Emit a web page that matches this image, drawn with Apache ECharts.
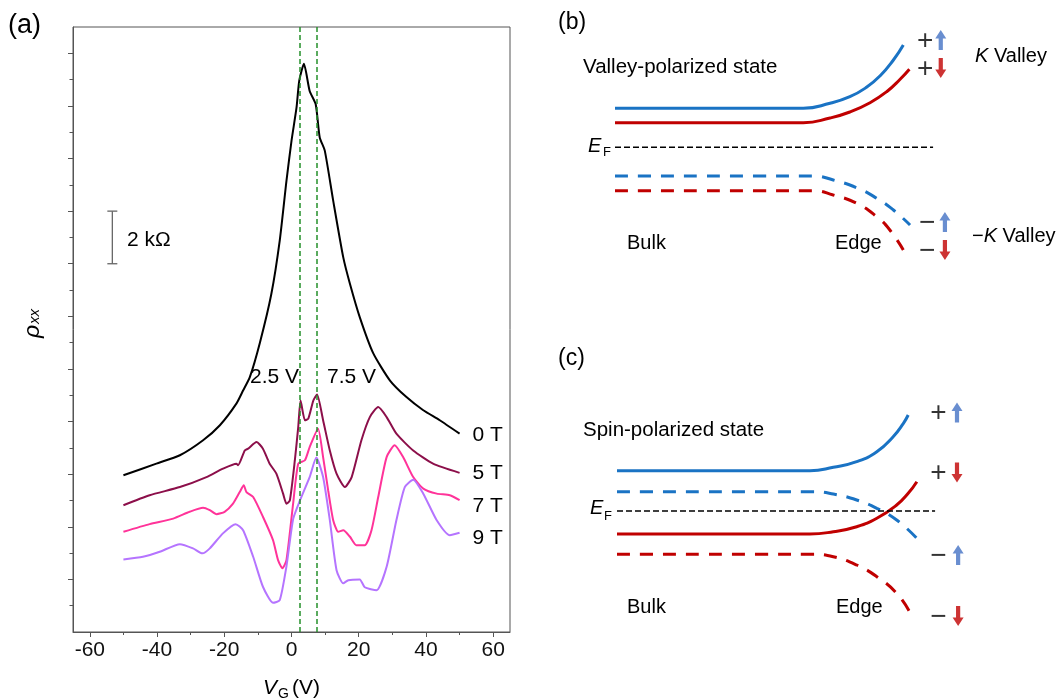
<!DOCTYPE html>
<html>
<head>
<meta charset="utf-8">
<script src="https://cdn.jsdelivr.net/npm/echarts@6/dist/echarts.min.js"></script>
<style>
  html, body { margin: 0; padding: 0; background: #fff; }
  #chart { width: 1059px; height: 700px; }
</style>
</head>
<body>
<div id="chart"></div>
<script>
// (a) rho_xx vs V_G in kOhm, curves offset as in the figure
var curve0T = [[-50, 5.96], [-40.2, 6.4], [-33.2, 6.72], [-26.3, 7.29], [-21.3, 7.86], [-16.4, 8.68], [-14.4, 9.18],
  [-12.4, 9.69], [-9.4, 11.0], [-6.0, 12.85], [-3.5, 14.88], [-1.5, 17.15], [0, 18.67], [1.5, 19.94], [2.3, 20.95],
  [3.7, 21.6], [5.4, 20.57], [7.2, 20.06], [8.4, 18.8], [9.9, 18.3], [12.4, 16.4], [15.4, 14.24], [17.4, 13.23],
  [20.3, 11.97], [24.3, 10.6], [29.3, 9.56], [34.2, 8.93], [39.2, 8.43], [44.1, 8.05], [50, 7.54]];
var curve5T = [[-50, 4.82], [-42.2, 5.2], [-33.2, 5.51], [-25.3, 5.89], [-20.4, 6.21], [-16.4, 6.4], [-15.9, 6.34],
  [-13.9, 6.9], [-12.9, 6.97], [-10.4, 7.22], [-8.5, 6.97], [-6.5, 6.4], [-4.5, 6.02], [-2.5, 5.26], [-1.5, 4.88],
  [-0.5, 5.0], [1.0, 6.53], [2.0, 7.79], [2.7, 8.8], [4.0, 8.05], [5.0, 8.11], [6.5, 8.8], [7.6, 9.03], [9.4, 8.05],
  [11.4, 6.9], [13.4, 6.02], [15.9, 5.51], [17.9, 5.89], [20.8, 7.29], [23.3, 8.17], [25.8, 8.55], [28.3, 8.17],
  [31.2, 7.54], [36.2, 6.9], [42.1, 6.4], [50, 6.05]];
var curve7T = [[-50, 3.81], [-42.2, 4.1], [-35.2, 4.31], [-30.3, 4.57], [-26.3, 4.72], [-24.3, 4.63], [-22.3, 4.48],
  [-19.9, 4.57], [-17.4, 4.88], [-15.4, 5.32], [-14.2, 5.58], [-13.4, 5.32], [-11.4, 5.13], [-8.5, 4.38],
  [-5.5, 3.49], [-4.0, 2.73], [-2.7, 2.42], [-1.5, 2.73], [0.5, 4.9], [2.0, 6.4], [4.0, 6.53], [5.4, 7.03],
  [7.9, 7.73], [9.4, 6.65], [10.9, 5.39], [12.4, 4.25], [13.9, 3.81], [15.4, 3.87], [17.4, 3.62], [19.3, 3.3],
  [21.8, 3.3], [23.8, 3.87], [25.8, 5.13], [28.3, 6.65], [30.7, 7.1], [33.2, 6.65], [36.2, 5.89], [39.2, 5.45],
  [43.2, 5.26], [47.1, 5.2], [50, 5.01]];
var curve9T = [[-50, 2.76], [-44.2, 2.86], [-39.2, 3.05], [-33.2, 3.34], [-29.3, 3.18], [-26.5, 2.99], [-24.3, 3.18],
  [-20.4, 3.75], [-16.6, 4.1], [-14.4, 3.87], [-11.4, 2.86], [-8.5, 1.72], [-5.5, 1.11], [-3.5, 1.21], [-1.5, 2.5],
  [0.5, 4.3], [2.5, 5.0], [5.4, 5.89], [7.4, 6.63], [9.4, 5.89], [11.4, 4.25], [13.4, 2.35], [15.4, 1.85],
  [16.9, 1.97], [20.3, 2.0], [21.8, 1.7], [25.3, 1.59], [28.3, 2.48], [31.2, 4.25], [33.7, 5.51], [36.2, 5.79],
  [39.2, 5.26], [43.2, 4.25], [47.1, 3.68], [50, 3.77]];
var fieldLabels = ['0 T', '5 T', '7 T', '9 T'];
var fieldColors = ['#000000', '#8c0f4a', '#ff3399', '#b574ff'];
var dipGates = [2.5, 7.5];
var scaleBar = [[-53.3, 14], [-53.3, 16]];
var vgLabelTicks = [-60, -40, -20, 0, 20, 40, 60];
var vgMinorTicks = [-50, -30, -10, 10, 30, 50];
var rhoMajorTicks = [2, 4, 6, 8, 10, 12, 14, 16, 18, 20, 22];
var rhoMinorTicks = [1, 3, 5, 7, 9, 11, 13, 15, 17, 19, 21];

// (b) valley-polarized state: energy (E_F = 0) vs position, bulk -> edge
var bKUp = [[0, 3.9], [45, 3.9], [58.85, 3.9], [67.2, 4.4], [73.4, 5.06], [78.6, 6.0], [82.8, 7.13], [87, 8.73], [90.1, 10.23]];
var bKDown = [[0, 2.46], [45, 2.46], [58.85, 2.46], [67.2, 2.93], [73.4, 3.53], [79.7, 4.46], [84.9, 5.56], [89.1, 6.8], [92, 7.8]];
var bMKUp = [[0, -2.87], [45, -2.87], [61.97, -2.87], [68.2, -3.27], [75.5, -4.04], [81.8, -5.1], [87, -6.27], [92.2, -7.77]];
var bMKDown = [[0, -4.34], [45, -4.34], [61.97, -4.34], [68.2, -4.77], [75.5, -5.6], [81.8, -6.94], [85.9, -8.27], [90.1, -10.27]];
var bFermi = [[0, 0], [99.4, 0]];
// [x, energy, sign, spin, label gap]
var bSpins = [[101.8, 10.73, '+', 'up', 2], [101.8, 7.93, '+', 'down', 2], [103.1, -7.47, '\u2212', 'up', 4], [103.1, -10.27, '\u2212', 'down', 4]];

// (c) spin-polarized state
var cKUp = [[0, 4.03], [45, 4.03], [60.3, 4.03], [67.6, 4.37], [74.9, 4.93], [81.2, 5.93], [86.3, 7.43], [89.5, 8.77], [91, 9.6]];
var cMKUp = [[0, 1.93], [45, 1.93], [61.3, 1.93], [67.6, 1.7], [74.9, 1.1], [81.2, 0.27], [87.4, -0.9], [93.7, -2.73]];
var cKDown = [[0, -2.3], [45, -2.3], [60.3, -2.3], [67.6, -2.07], [74.9, -1.57], [81.2, -0.73], [87.4, 0.6], [91, 1.77], [93.7, 2.93]];
var cMKDown = [[0, -4.33], [45, -4.33], [61.3, -4.33], [67.6, -4.57], [74.9, -5.4], [81.2, -6.57], [87.4, -8.23], [91.6, -10.17]];
var cFermi = [[0, 0], [99.4, 0]];
var cSpins = [[106.25, 9.85, '+', 'up', 5], [106.25, 3.85, '+', 'down', 5], [106.6, -4.4, '\u2212', 'up', 6], [106.6, -10.5, '\u2212', 'down', 6]];

var FONT = '"Liberation Sans", Arial, sans-serif';
var AXIS = '#555';
var BLUE = '#1a73c4';
var RED = '#c00000';
var ARROW_UP = 'path://M5.5,0L11,8.5L7.6,8.5L7.6,20L3.4,20L3.4,8.5L0,8.5Z';
var ARROW_DOWN = 'path://M5.5,20L11,11.5L7.6,11.5L7.6,0L3.4,0L3.4,11.5L0,11.5Z';

var chart = echarts.init(document.getElementById('chart'));

function band(data, gi, color, dashed) {
  return {
    type: 'line', xAxisIndex: gi, yAxisIndex: gi, data: data,
    showSymbol: false, symbol: 'none', smooth: 0.5, silent: true,
    lineStyle: { color: color, width: 3, type: dashed ? [13, 10] : 'solid' }
  };
}

function fermi(data, gi) {
  return {
    type: 'line', xAxisIndex: gi, yAxisIndex: gi, data: data, showSymbol: false, symbol: 'none', silent: true,
    lineStyle: { color: '#000', width: 1.5, type: [6, 3] }
  };
}

function spins(list, gi) {
  return {
    type: 'scatter', xAxisIndex: gi, yAxisIndex: gi, silent: true, clip: false,
    symbolSize: [11, 20],
    data: list.map(function (s) {
      var up = s[3] === 'up';
      return {
        value: [s[0], s[1]],
        symbol: up ? ARROW_UP : ARROW_DOWN,
        itemStyle: { color: up ? '#4472c4' : RED },
        label: { show: true, position: 'left', distance: s[4], formatter: s[2], fontSize: 28, color: '#000', fontFamily: FONT, offset: [0, 1] }
      };
    })
  };
}

function txt(text, x, y, size, opts) {
  opts = opts || {};
  return {
    type: 'text', x: x, y: y, rotation: opts.rotation || 0, silent: true,
    style: {
      text: text, fill: '#000', fontSize: size, fontFamily: FONT, fontStyle: opts.italic ? 'italic' : 'normal',
      align: opts.align || 'left', textAlign: opts.align || 'left',
      verticalAlign: 'middle', textVerticalAlign: 'middle'
    }
  };
}

var curves = [curve0T, curve5T, curve7T, curve9T];
var series = curves.map(function (c, i) {
  var s = {
    name: fieldLabels[i], type: 'line', xAxisIndex: 0, yAxisIndex: 0, data: c,
    showSymbol: false, symbol: 'none', silent: true, smooth: 0.2,
    lineStyle: { color: fieldColors[i], width: 2 }
  };
  if (i === 0) {
    s.markLine = {
      silent: true, symbol: ['none', 'none'], label: { show: false },
      lineStyle: { color: '#24902a', width: 1.5, type: [5, 3] },
      data: dipGates.map(function (v) { return { xAxis: v }; })
    };
  }
  return s;
});
series.push({
  type: 'line', xAxisIndex: 0, yAxisIndex: 0, data: scaleBar, silent: true,
  symbol: 'rect', symbolSize: [10, 1.3], showSymbol: true,
  itemStyle: { color: '#666' }, lineStyle: { color: '#666', width: 1.3 }
});

series.push(band(bKUp, 2, BLUE, false), band(bKDown, 2, RED, false),
  band(bMKUp, 2, BLUE, true), band(bMKDown, 2, RED, true), fermi(bFermi, 2), spins(bSpins, 2));
series.push(band(cKUp, 3, BLUE, false), band(cMKUp, 3, BLUE, true),
  band(cKDown, 3, RED, false), band(cMKDown, 3, RED, true), fermi(cFermi, 3), spins(cSpins, 3));

var graphics = [
  txt('(a)', 8, 26, 27),
  txt('(b)', 558, 23, 23),
  txt('(c)', 558, 359, 23),
  txt('2.5 V', 250, 377, 21),
  txt('7.5 V', 327, 377, 21),
  txt('2 k\u03a9', 127, 240, 21),
  txt('V', 263, 688, 21, { italic: true }),
  txt('G', 278, 694, 14),
  txt('(V)', 292, 688, 21),
  txt('\u03c1', 33, 338, 23, { italic: true, rotation: Math.PI / 2 }),
  txt('xx', 35, 324, 15, { italic: true, rotation: Math.PI / 2 }),
  txt('Valley-polarized state', 583, 67, 20.5),
  txt('E', 588, 146.5, 20, { italic: true }),
  txt('F', 603, 152.5, 13),
  txt('Bulk', 627, 243, 20),
  txt('Edge', 835, 243, 20),
  txt('Spin-polarized state', 583, 430, 20.5),
  txt('E', 590, 508.5, 20, { italic: true }),
  txt('F', 604, 516, 13),
  txt('Bulk', 627, 607, 20),
  txt('Edge', 836, 607, 20)
];
var fieldLabelY = [435, 473.5, 506.5, 538.5];
fieldLabels.forEach(function (t, i) { graphics.push(txt(t, 472.5, fieldLabelY[i], 21)); });
graphics.push({
  type: 'text', x: 975, y: 56, silent: true,
  style: { text: '{k|K} Valley', fontSize: 20, fontFamily: FONT, fill: '#000', verticalAlign: 'middle', textVerticalAlign: 'middle',
    rich: { k: { fontStyle: 'italic', fontSize: 20, fontFamily: FONT } } }
});
graphics.push({
  type: 'text', x: 972, y: 236, silent: true,
  style: { text: '\u2212{k|K} Valley', fontSize: 20, fontFamily: FONT, fill: '#000', verticalAlign: 'middle', textVerticalAlign: 'middle',
    rich: { k: { fontStyle: 'italic', fontSize: 20, fontFamily: FONT } } }
});

var option = {
  animation: false,
  backgroundColor: '#fff',
  textStyle: { fontFamily: FONT },
  grid: [
    { left: 73, top: 27, width: 437, height: 605, show: true, borderColor: AXIS, borderWidth: 1, backgroundColor: 'transparent', outerBoundsMode: 'none', containLabel: false },
    { left: 615, top: 27.3, width: 448, height: 240, outerBoundsMode: 'none', containLabel: false },
    { left: 617, top: 391, width: 448, height: 240, outerBoundsMode: 'none', containLabel: false }
  ],
  xAxis: [
    { gridIndex: 0, type: 'value', min: -65, max: 65, position: 'bottom',
      axisLine: { show: true, onZero: false, lineStyle: { color: AXIS, width: 1 } },
      axisTick: { show: true, inside: false, length: 5, customValues: vgLabelTicks, lineStyle: { color: AXIS } },
      axisLabel: { show: true, customValues: vgLabelTicks, fontSize: 21, color: '#111', margin: 8, fontFamily: FONT },
      splitLine: { show: false } },
    { gridIndex: 0, type: 'value', min: -65, max: 65, position: 'bottom',
      axisLine: { show: false, onZero: false },
      axisTick: { show: true, inside: false, length: 3, customValues: vgMinorTicks, lineStyle: { color: AXIS } },
      axisLabel: { show: false }, splitLine: { show: false } },
    { gridIndex: 1, type: 'value', min: 0, max: 140, show: false },
    { gridIndex: 2, type: 'value', min: 0, max: 140, show: false }
  ],
  yAxis: [
    { gridIndex: 0, type: 'value', min: 0, max: 23, position: 'left',
      axisLine: { show: true, onZero: false, lineStyle: { color: AXIS, width: 1 } },
      axisTick: { show: true, inside: false, length: 5, customValues: rhoMajorTicks, lineStyle: { color: AXIS } },
      axisLabel: { show: false }, splitLine: { show: false } },
    { gridIndex: 0, type: 'value', min: 0, max: 23, position: 'left',
      axisLine: { show: false, onZero: false },
      axisTick: { show: true, inside: false, length: 3.5, customValues: rhoMinorTicks, lineStyle: { color: AXIS } },
      axisLabel: { show: false }, splitLine: { show: false } },
    { gridIndex: 1, type: 'value', min: -12, max: 12, show: false },
    { gridIndex: 2, type: 'value', min: -12, max: 12, show: false }
  ],
  graphic: graphics,
  series: series
};

chart.setOption(option);
</script>
</body>
</html>
